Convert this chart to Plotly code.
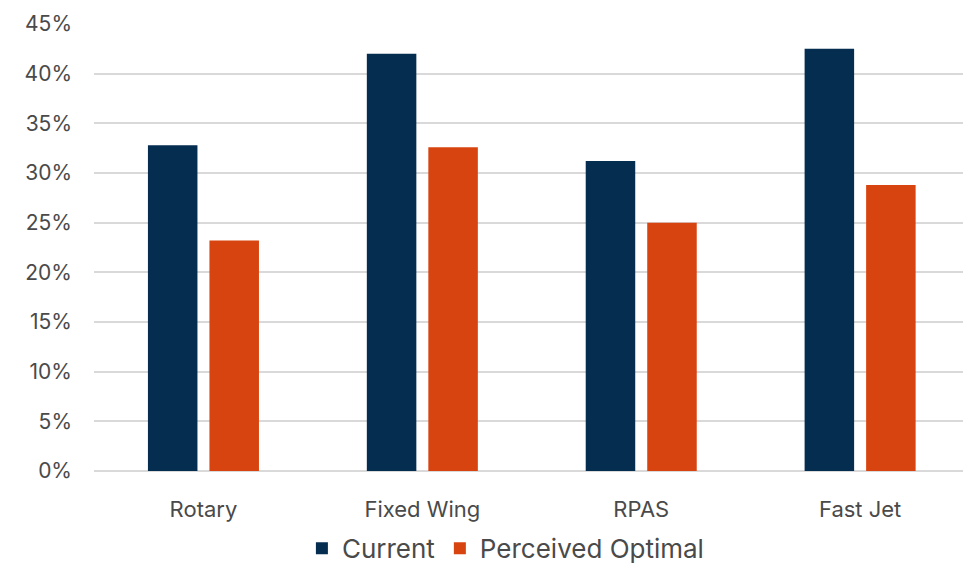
import plotly.graph_objects as go

# Share of time by platform type
categories = ["Rotary", "Fixed Wing", "RPAS", "Fast Jet"]
current = [32.8, 42.0, 31.2, 42.5]
perceived_optimal = [23.2, 32.6, 25.0, 28.8]
y_ticks = [0, 5, 10, 15, 20, 25, 30, 35, 40, 45]
y_tick_labels = [f"{v}%" for v in y_ticks]

navy = "#052D50"
orange = "#D8440F"
text_color = "#4A4A4A"
font_family = "Inter, Open Sans, Liberation Sans, Arial, sans-serif"

fig = go.Figure()
fig.add_trace(go.Bar(
    name="Current", x=categories, y=current,
    marker=dict(color=navy, line=dict(width=0)),
))
fig.add_trace(go.Bar(
    name="Perceived Optimal", x=categories, y=perceived_optimal,
    marker=dict(color=orange, line=dict(width=0)),
))

fig.update_layout(
    width=963, height=563,
    margin=dict(l=94, r=0, t=24, b=92, autoexpand=False),
    paper_bgcolor="white", plot_bgcolor="white",
    barmode="group", bargap=0.438, bargroupgap=0.195,
    font=dict(family=font_family, color=text_color, size=21),
    showlegend=True,
    legend=dict(
        orientation="h", x=0.474, xanchor="center",
        yref="container", y=0.026, yanchor="middle",
        font=dict(size=26, color=text_color), traceorder="normal",
        bgcolor="rgba(0,0,0,0)", itemwidth=30,
    ),
    xaxis=dict(
        range=[-0.5, 3.47], showgrid=False, showline=False, zeroline=False,
        ticks="", tickfont=dict(size=22, color=text_color), ticklabelstandoff=23,
    ),
    yaxis=dict(
        range=[0, 45], tickvals=y_ticks, ticktext=y_tick_labels,
        showgrid=True, gridcolor="#D9D9D9", gridwidth=1.5,
        zeroline=True, zerolinecolor="#D9D9D9", zerolinewidth=1.5,
        showline=False, ticks="", tickfont=dict(size=21, color=text_color),
        ticklabelstandoff=21,
    ),
)

fig.write_html("out.html")
